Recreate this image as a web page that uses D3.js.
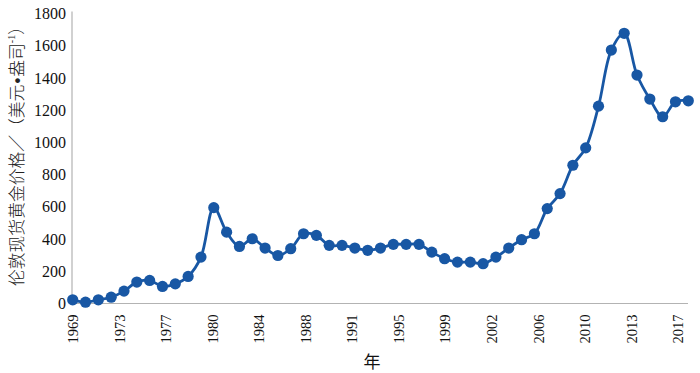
<!DOCTYPE html>
<html><head><meta charset="utf-8">
<script src="https://cdn.jsdelivr.net/npm/d3@7"></script>
<style>body{margin:0;background:#fff}svg{display:block}</style>
</head><body>
<script>
const years = d3.range(1969, 2018);
const prices = [23, 8, 23, 39, 77, 133, 143, 106, 122, 168, 288, 595, 443, 354, 402, 344, 298, 340, 433, 423, 361, 361,
  344, 330, 344, 367, 367, 367, 319, 278, 257, 257, 247, 288, 344, 396, 433, 589, 682, 858, 966, 1225, 1573, 1677, 1418, 1269, 1159, 1252, 1258];
const yTicks = [0, 200, 400, 600, 800, 1000, 1200, 1400, 1600, 1800];
const xTickLabels = ["1969","1973","1977","1980","1984","1988","1991","1995","1999","2002","2006","2010","2013","2017"];
const yTitleMain = "伦敦现货黄金价格／（美元";
const yTitleDot = "•";
const yTitleUnit = "盎司";
const yTitleSup = "-1";
const yTitleEnd = "）";
const xTitle = "年";

const W = 700, H = 373;
const svg = d3.select("body").append("svg").attr("width", W).attr("height", H);

const x = d3.scaleLinear().domain([1969, 2017]).range([72.7, 688.3]);
const y = d3.scaleLinear().domain([0, 1800]).range([303.5, 13.5]);
const xLab = d3.scaleLinear().domain([0, xTickLabels.length - 1]).range([72.7, 677.5]);

const axisColor = "#b3b3b3";
// y axis
const gy = svg.append("g").attr("transform", `translate(${72},0)`)
  .call(d3.axisLeft(y).tickValues(yTicks).tickSize(0).tickPadding(6).tickFormat(d3.format("d")));
gy.select(".domain").attr("stroke", axisColor).attr("stroke-width", 1.2).attr("d", `M0,${y(1800) - 2}V${y(0)}`);
gy.selectAll("text").attr("font-family", "Liberation Serif, Times New Roman, serif").attr("font-size", 16).attr("fill", "#111");

// x axis
const gx = svg.append("g").attr("transform", `translate(0,${y(0)})`)
  .call(d3.axisBottom(xLab).tickValues(d3.range(xTickLabels.length)).tickSize(0).tickPadding(0)
    .tickFormat(i => xTickLabels[i]));
gx.select(".domain").attr("stroke", axisColor).attr("stroke-width", 1.2).attr("d", `M72,0H688`);
gx.selectAll("text")
  .attr("font-family", "Liberation Serif, Times New Roman, serif").attr("font-size", 14.5).attr("fill", "#111")
  .attr("transform", "rotate(-90)").attr("text-anchor", "end").attr("x", -11).attr("y", 0).attr("dy", "0.35em");

// line
const data = years.map((yr, i) => ({yr, v: prices[i]}));
const blue = "#1857a4";
svg.append("path").datum(data)
  .attr("fill", "none").attr("stroke", blue).attr("stroke-width", 2.8)
  .attr("d", d3.line().x(d => x(d.yr)).y(d => y(d.v)).curve(d3.curveCatmullRom.alpha(0.5)));
svg.append("g").selectAll("circle").data(data).join("circle")
  .attr("cx", d => x(d.yr)).attr("cy", d => y(d.v)).attr("r", 5.6).attr("fill", blue);

// y title
const yt = svg.append("text")
  .attr("transform", `translate(22.5,286) rotate(-90)`)
  .attr("text-anchor", "start")
  .attr("font-family", "Noto Sans CJK SC, sans-serif").attr("font-weight", 300)
  .attr("font-size", 16.8).attr("fill", "#222");
yt.append("tspan").text(yTitleMain);
yt.append("tspan").attr("font-family", "Liberation Sans, sans-serif").attr("font-weight", 700).attr("dx", 1).text(yTitleDot);
yt.append("tspan").attr("dx", 1).text(yTitleUnit);
yt.append("tspan").attr("font-size", 10).attr("font-family", "Liberation Serif, serif").attr("dy", "-0.75em").text(yTitleSup);
yt.append("tspan").attr("dy", "0.45em").text(yTitleEnd);

svg.append("text").attr("x", 372).attr("y", 360).attr("text-anchor", "middle")
  .attr("dominant-baseline", "central")
  .attr("font-family", "Noto Sans CJK SC, sans-serif").attr("font-size", 17).attr("fill", "#111").text(xTitle);
</script>
</body></html>
